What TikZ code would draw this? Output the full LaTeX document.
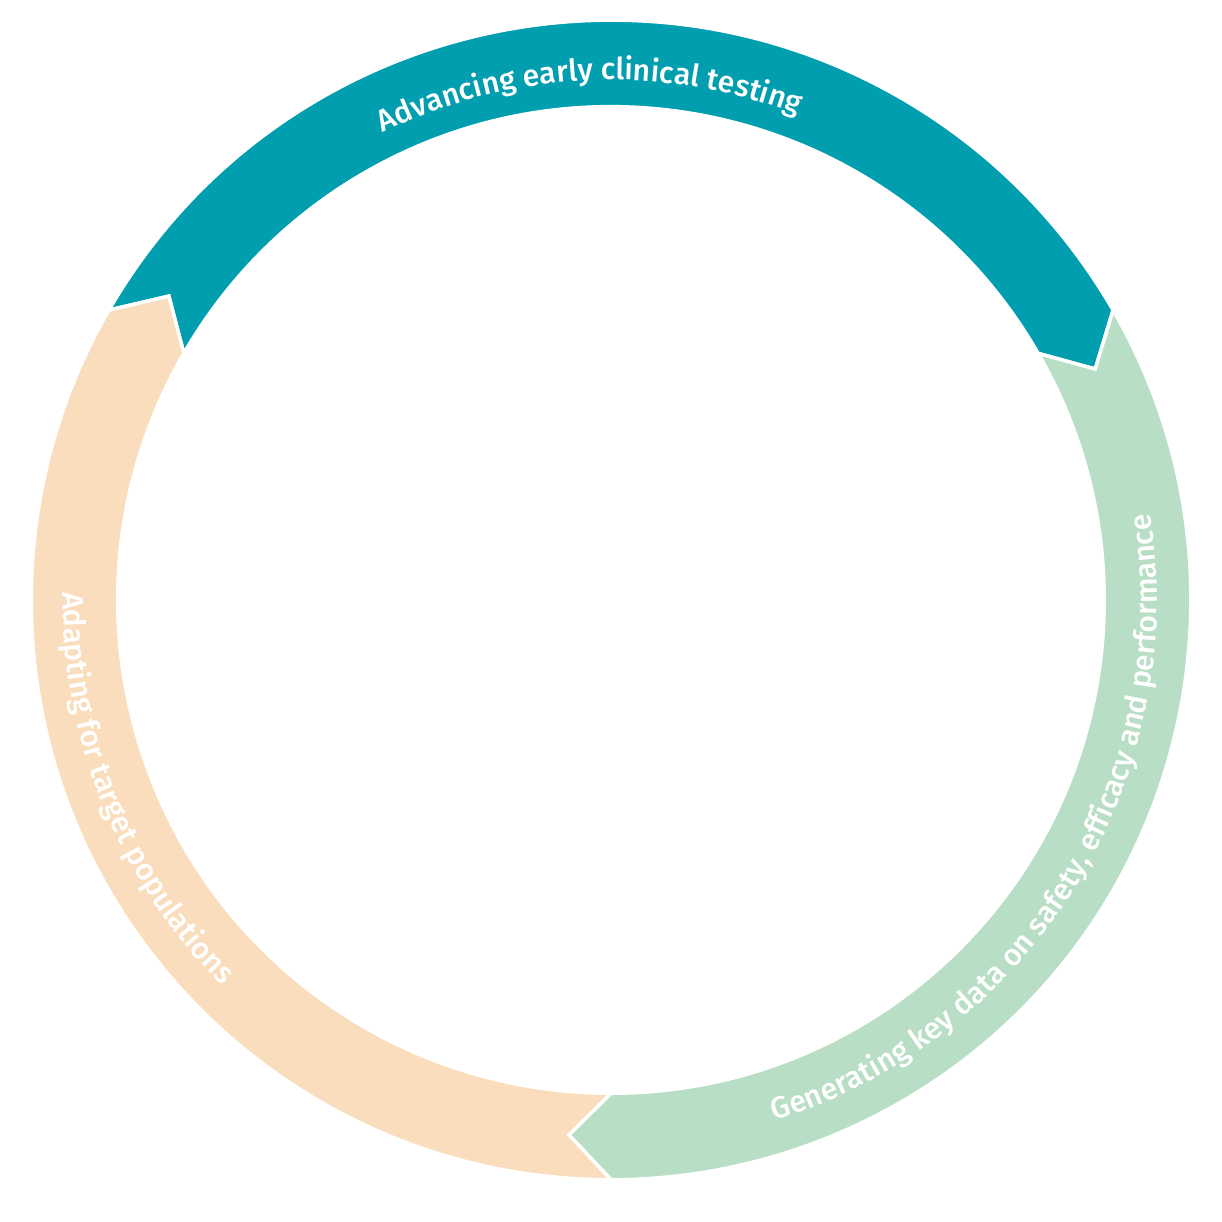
\documentclass[tikz,border=0pt]{standalone}
\usepackage{fontspec}
\setmainfont{Fira Sans}[UprightFont=* Medium]
\usetikzlibrary{decorations.text}
\definecolor{tealc}{RGB}{0,158,174}
\definecolor{greenc}{RGB}{184,222,197}
\definecolor{peachc}{RGB}{250,221,188}
\def\rOut{579.75}
\def\rIn{493.25}
\def\rMid{536.5}
\def\chevdeg{4.5}
\newcommand{\ringseg}[3]{%
  \filldraw[segline, fill=#3]
    (#1:\rOut) arc[start angle=#1, end angle=#2, radius=\rOut]
    -- ({#2-\chevdeg}:\rMid) -- (#2:\rIn)
    arc[start angle=#2, end angle=#1, radius=\rIn]
    -- ({#1-\chevdeg}:\rMid) -- cycle;}
\tikzset{
  segline/.style={draw=white, line width=3.5pt, line join=miter},
  ringtext/.style={decorate, decoration={text along path, text align=center,
    text={|\fontsize{30.2}{33}\selectfont\color{white}|#1}}}
}
\begin{document}
\begin{tikzpicture}[x=1pt,y=1pt]
\useasboundingbox (0,0) rectangle (1222,1222);
\fill[white] (0,0) rectangle (1222,1222);
\begin{scope}[shift={(611,622)}]
  \ringseg{150}{30}{tealc}
  \ringseg{30}{-90}{greenc}
  \ringseg{270}{150}{peachc}
  \path[ringtext={Advancing early clinical testing}]
    (160:520) arc[start angle=160, end angle=25, radius=520];
  \path[ringtext={Generating key data on safety, efficacy and performance}]
    (258.3:546) arc[start angle=258.3, end angle=398.3, radius=546];
  \path[ringtext={Adapting for target populations}]
    (152:548) arc[start angle=152, end angle=252, radius=548];
\end{scope}
\end{tikzpicture}
\end{document}
